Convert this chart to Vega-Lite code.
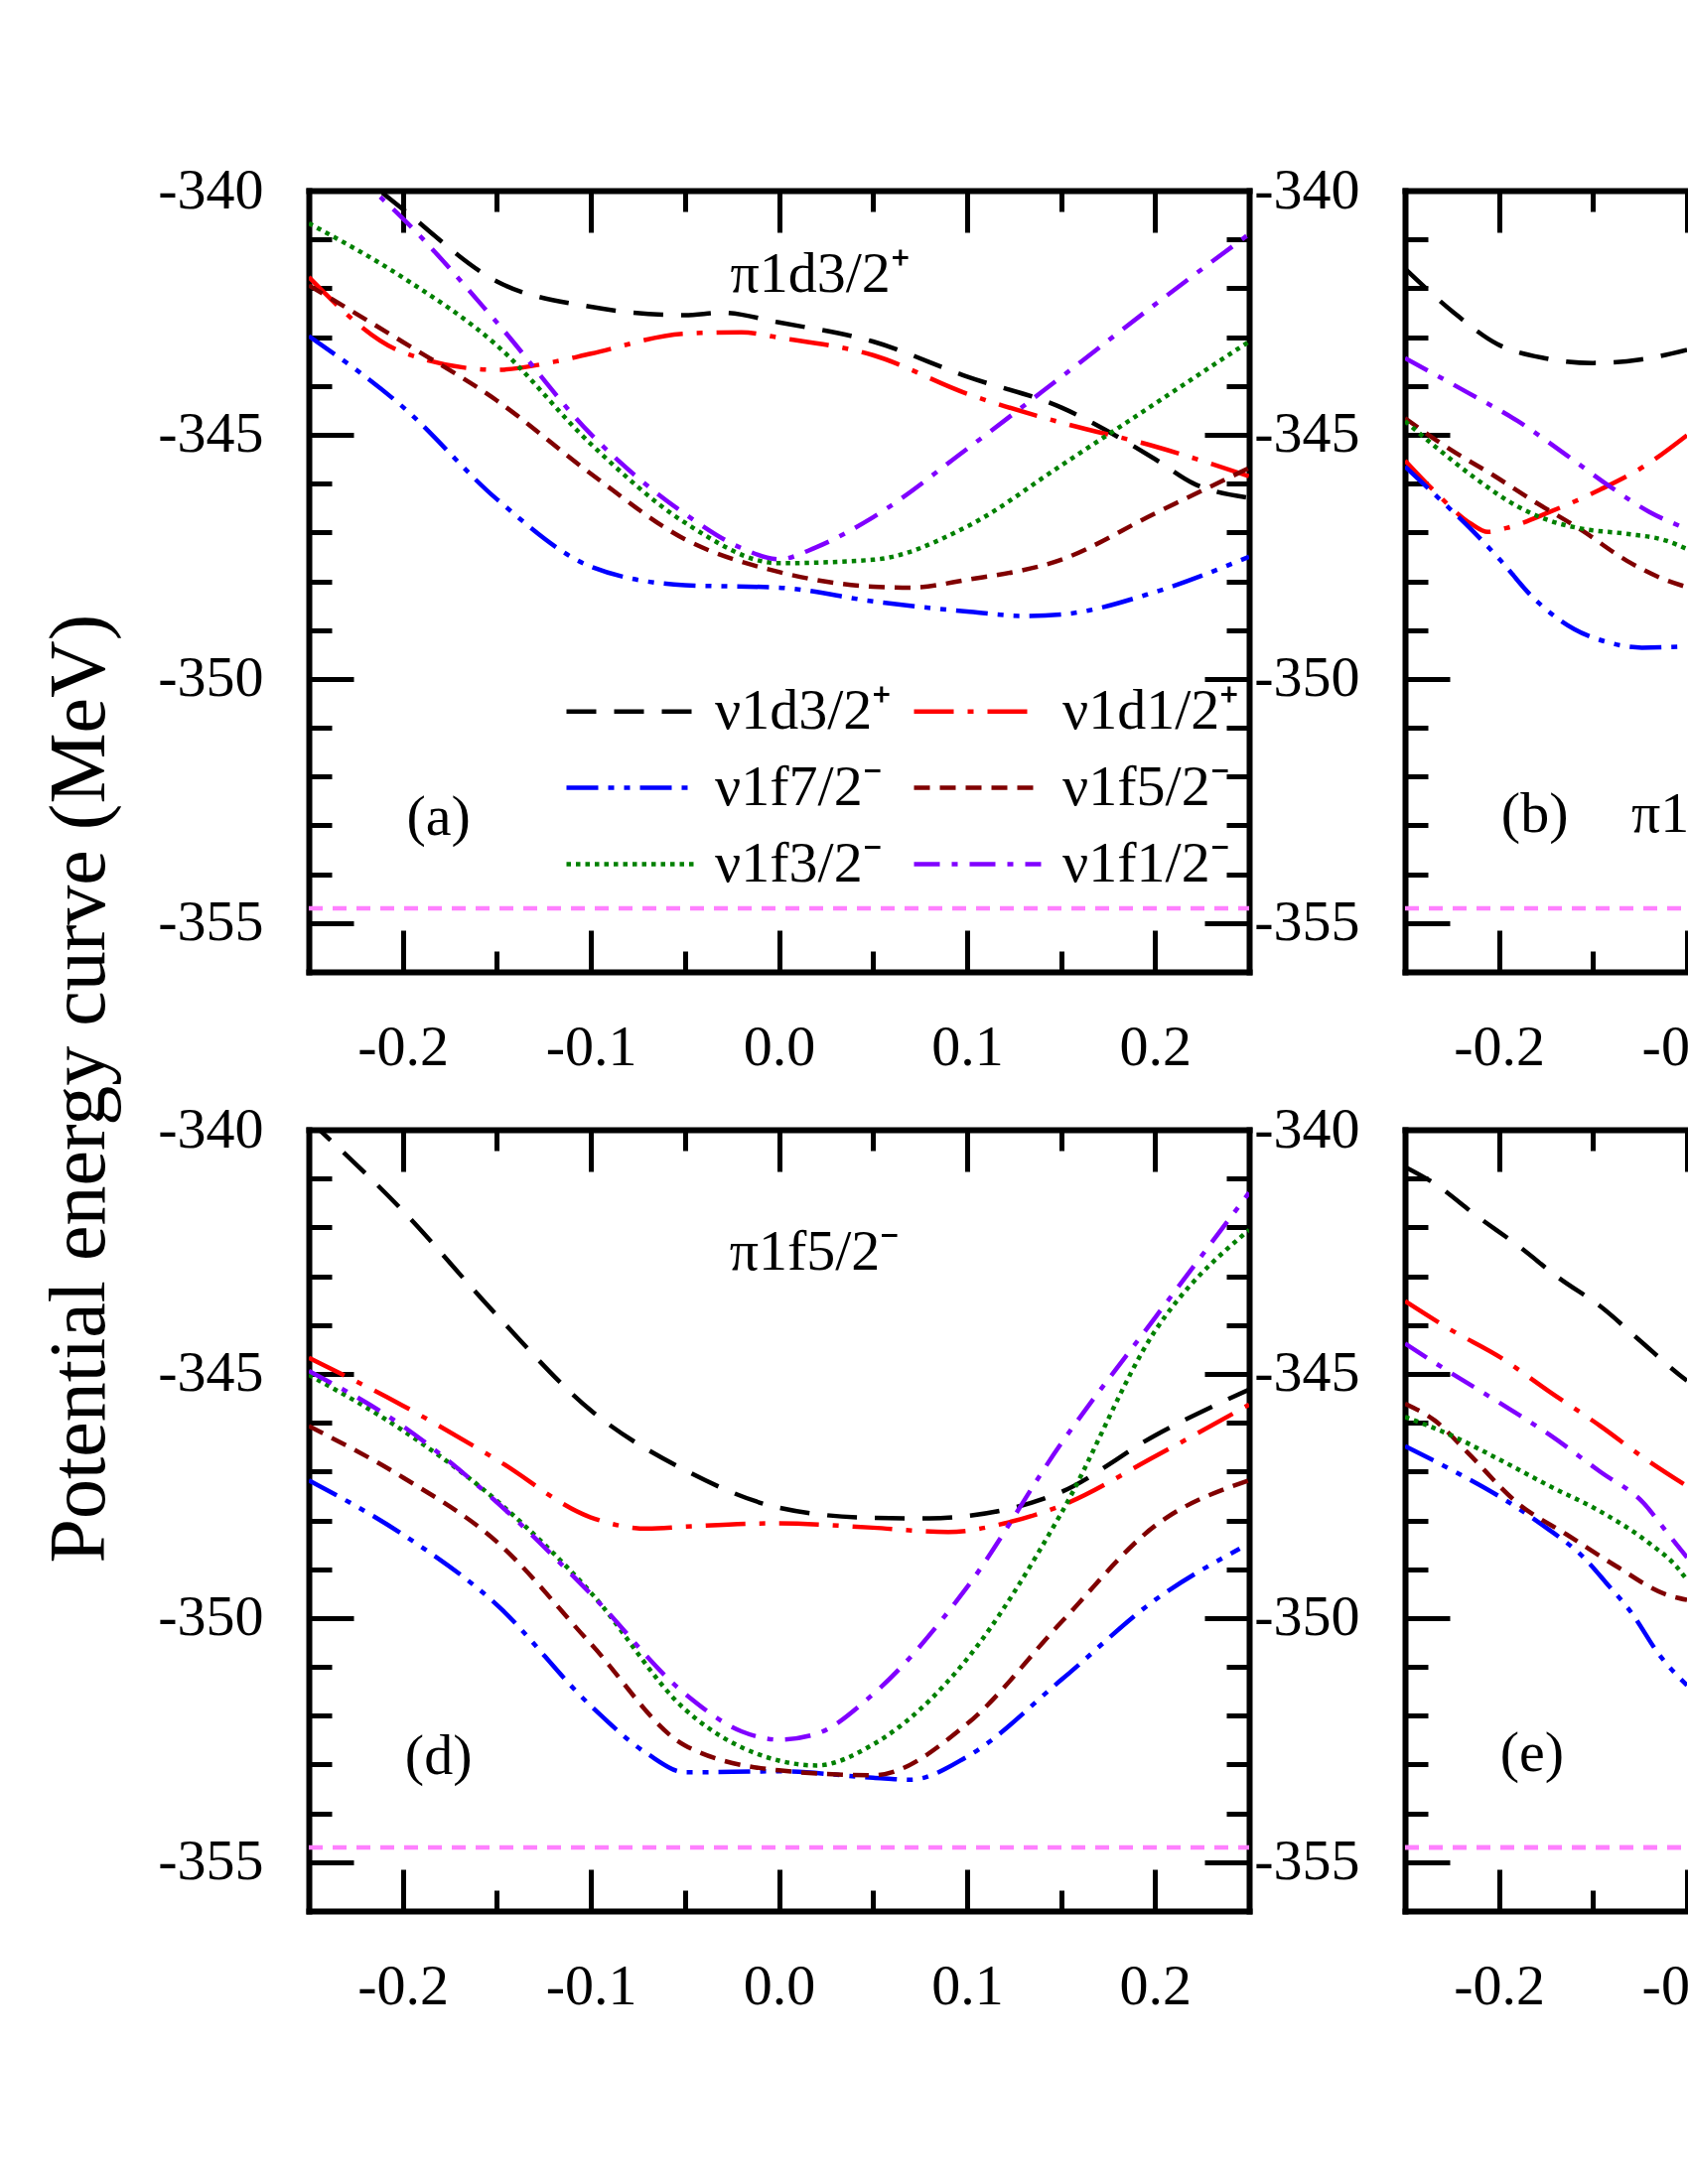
{
  "$schema": "https://vega.github.io/schema/vega-lite/v6.json",
  "background": "white",
  "padding": {"left": 40, "top": 163, "right": 0, "bottom": 0},
  "config": {
    "view": {"stroke": null},
    "font": "Liberation Serif",
    "axis": {"labelFont": "Liberation Serif", "labelFontSize": 58, "labelColor": "#000000", "tickColor": "#000000", "tickWidth": 5, "domainColor": "#000000", "domainWidth": 6, "domainCap": "square", "grid": false, "labelFlush": false, "labelOverlap": false}
  },
  "title": {"text": "Potential energy curve (MeV)", "orient": "left", "anchor": "middle", "font": "Liberation Serif", "fontSize": 80, "fontWeight": "normal", "color": "#000000", "offset": 37},
  "datasets": {
    "a": [
      {"s": "ν1d3/2⁺", "x": -0.25, "y": -338.8}, {"s": "ν1d3/2⁺", "x": -0.2, "y": -340.38}, {"s": "ν1d3/2⁺", "x": -0.15, "y": -341.86}, {"s": "ν1d3/2⁺", "x": -0.1, "y": -342.38}, {"s": "ν1d3/2⁺", "x": -0.05, "y": -342.55}, {"s": "ν1d3/2⁺", "x": -0.03, "y": -342.5}, {"s": "ν1d3/2⁺", "x": 0, "y": -342.7}, {"s": "ν1d3/2⁺", "x": 0.05, "y": -343.09}, {"s": "ν1d3/2⁺", "x": 0.1, "y": -343.81}, {"s": "ν1d3/2⁺", "x": 0.15, "y": -344.44}, {"s": "ν1d3/2⁺", "x": 0.2, "y": -345.5}, {"s": "ν1d3/2⁺", "x": 0.22, "y": -345.99}, {"s": "ν1d3/2⁺", "x": 0.25, "y": -346.29},
      {"s": "ν1d1/2⁺", "x": -0.25, "y": -341.77}, {"s": "ν1d1/2⁺", "x": -0.2, "y": -343.31}, {"s": "ν1d1/2⁺", "x": -0.15, "y": -343.67}, {"s": "ν1d1/2⁺", "x": -0.12, "y": -343.51}, {"s": "ν1d1/2⁺", "x": -0.1, "y": -343.34}, {"s": "ν1d1/2⁺", "x": -0.05, "y": -342.93}, {"s": "ν1d1/2⁺", "x": -0.02, "y": -342.9}, {"s": "ν1d1/2⁺", "x": 0, "y": -343.01}, {"s": "ν1d1/2⁺", "x": 0.05, "y": -343.37}, {"s": "ν1d1/2⁺", "x": 0.1, "y": -344.16}, {"s": "ν1d1/2⁺", "x": 0.15, "y": -344.75}, {"s": "ν1d1/2⁺", "x": 0.2, "y": -345.24}, {"s": "ν1d1/2⁺", "x": 0.25, "y": -345.85},
      {"s": "ν1f7/2⁻", "x": -0.25, "y": -342.98}, {"s": "ν1f7/2⁻", "x": -0.2, "y": -344.43}, {"s": "ν1f7/2⁻", "x": -0.15, "y": -346.32}, {"s": "ν1f7/2⁻", "x": -0.1, "y": -347.7}, {"s": "ν1f7/2⁻", "x": -0.05, "y": -348.08}, {"s": "ν1f7/2⁻", "x": 0, "y": -348.13}, {"s": "ν1f7/2⁻", "x": 0.05, "y": -348.41}, {"s": "ν1f7/2⁻", "x": 0.1, "y": -348.62}, {"s": "ν1f7/2⁻", "x": 0.13, "y": -348.71}, {"s": "ν1f7/2⁻", "x": 0.15, "y": -348.68}, {"s": "ν1f7/2⁻", "x": 0.2, "y": -348.22}, {"s": "ν1f7/2⁻", "x": 0.25, "y": -347.5},
      {"s": "ν1f5/2⁻", "x": -0.25, "y": -341.94}, {"s": "ν1f5/2⁻", "x": -0.2, "y": -343.1}, {"s": "ν1f5/2⁻", "x": -0.15, "y": -344.3}, {"s": "ν1f5/2⁻", "x": -0.1, "y": -345.8}, {"s": "ν1f5/2⁻", "x": -0.05, "y": -347.14}, {"s": "ν1f5/2⁻", "x": 0, "y": -347.81}, {"s": "ν1f5/2⁻", "x": 0.05, "y": -348.11}, {"s": "ν1f5/2⁻", "x": 0.07, "y": -348.13}, {"s": "ν1f5/2⁻", "x": 0.1, "y": -347.97}, {"s": "ν1f5/2⁻", "x": 0.15, "y": -347.56}, {"s": "ν1f5/2⁻", "x": 0.2, "y": -346.61}, {"s": "ν1f5/2⁻", "x": 0.25, "y": -345.68},
      {"s": "ν1f3/2⁻", "x": -0.25, "y": -340.67}, {"s": "ν1f3/2⁻", "x": -0.2, "y": -341.78}, {"s": "ν1f3/2⁻", "x": -0.15, "y": -343.17}, {"s": "ν1f3/2⁻", "x": -0.1, "y": -345.19}, {"s": "ν1f3/2⁻", "x": -0.05, "y": -346.8}, {"s": "ν1f3/2⁻", "x": 0, "y": -347.63}, {"s": "ν1f3/2⁻", "x": 0.05, "y": -347.56}, {"s": "ν1f3/2⁻", "x": 0.1, "y": -346.88}, {"s": "ν1f3/2⁻", "x": 0.15, "y": -345.63}, {"s": "ν1f3/2⁻", "x": 0.2, "y": -344.36}, {"s": "ν1f3/2⁻", "x": 0.25, "y": -343.09},
      {"s": "ν1f1/2⁻", "x": -0.25, "y": -338.9}, {"s": "ν1f1/2⁻", "x": -0.2, "y": -340.57}, {"s": "ν1f1/2⁻", "x": -0.15, "y": -342.7}, {"s": "ν1f1/2⁻", "x": -0.1, "y": -344.99}, {"s": "ν1f1/2⁻", "x": -0.05, "y": -346.62}, {"s": "ν1f1/2⁻", "x": -0.02, "y": -347.32}, {"s": "ν1f1/2⁻", "x": 0, "y": -347.55}, {"s": "ν1f1/2⁻", "x": 0.02, "y": -347.3}, {"s": "ν1f1/2⁻", "x": 0.05, "y": -346.69}, {"s": "ν1f1/2⁻", "x": 0.1, "y": -345.29}, {"s": "ν1f1/2⁻", "x": 0.15, "y": -343.82}, {"s": "ν1f1/2⁻", "x": 0.2, "y": -342.33}, {"s": "ν1f1/2⁻", "x": 0.25, "y": -340.89}
    ],
    "b": [
      {"s": "ν1d3/2⁺", "x": -0.25, "y": -341.6}, {"s": "ν1d3/2⁺", "x": -0.224, "y": -342.5}, {"s": "ν1d3/2⁺", "x": -0.201, "y": -343.14}, {"s": "ν1d3/2⁺", "x": -0.176, "y": -343.43}, {"s": "ν1d3/2⁺", "x": -0.15, "y": -343.53}, {"s": "ν1d3/2⁺", "x": -0.125, "y": -343.46}, {"s": "ν1d3/2⁺", "x": -0.1, "y": -343.26},
      {"s": "ν1d1/2⁺", "x": -0.25, "y": -345.53}, {"s": "ν1d1/2⁺", "x": -0.234, "y": -346.17}, {"s": "ν1d1/2⁺", "x": -0.215, "y": -346.82}, {"s": "ν1d1/2⁺", "x": -0.206, "y": -346.99}, {"s": "ν1d1/2⁺", "x": -0.196, "y": -346.91}, {"s": "ν1d1/2⁺", "x": -0.173, "y": -346.58}, {"s": "ν1d1/2⁺", "x": -0.146, "y": -346.12}, {"s": "ν1d1/2⁺", "x": -0.123, "y": -345.65}, {"s": "ν1d1/2⁺", "x": -0.1, "y": -345.01},
      {"s": "ν1f7/2⁻", "x": -0.25, "y": -345.65}, {"s": "ν1f7/2⁻", "x": -0.234, "y": -346.23}, {"s": "ν1f7/2⁻", "x": -0.215, "y": -346.93}, {"s": "ν1f7/2⁻", "x": -0.199, "y": -347.58}, {"s": "ν1f7/2⁻", "x": -0.182, "y": -348.33}, {"s": "ν1f7/2⁻", "x": -0.16, "y": -348.98}, {"s": "ν1f7/2⁻", "x": -0.143, "y": -349.24}, {"s": "ν1f7/2⁻", "x": -0.124, "y": -349.36}, {"s": "ν1f7/2⁻", "x": -0.1, "y": -349.33},
      {"s": "ν1f5/2⁻", "x": -0.25, "y": -344.66}, {"s": "ν1f5/2⁻", "x": -0.226, "y": -345.3}, {"s": "ν1f5/2⁻", "x": -0.203, "y": -345.83}, {"s": "ν1f5/2⁻", "x": -0.182, "y": -346.35}, {"s": "ν1f5/2⁻", "x": -0.157, "y": -346.93}, {"s": "ν1f5/2⁻", "x": -0.132, "y": -347.58}, {"s": "ν1f5/2⁻", "x": -0.111, "y": -347.98}, {"s": "ν1f5/2⁻", "x": -0.1, "y": -348.12},
      {"s": "ν1f3/2⁻", "x": -0.25, "y": -344.72}, {"s": "ν1f3/2⁻", "x": -0.234, "y": -345.24}, {"s": "ν1f3/2⁻", "x": -0.213, "y": -345.88}, {"s": "ν1f3/2⁻", "x": -0.19, "y": -346.47}, {"s": "ν1f3/2⁻", "x": -0.173, "y": -346.76}, {"s": "ν1f3/2⁻", "x": -0.155, "y": -346.93}, {"s": "ν1f3/2⁻", "x": -0.132, "y": -347.03}, {"s": "ν1f3/2⁻", "x": -0.111, "y": -347.17}, {"s": "ν1f3/2⁻", "x": -0.1, "y": -347.34},
      {"s": "ν1f1/2⁻", "x": -0.25, "y": -343.43}, {"s": "ν1f1/2⁻", "x": -0.217, "y": -344.13}, {"s": "ν1f1/2⁻", "x": -0.19, "y": -344.72}, {"s": "ν1f1/2⁻", "x": -0.164, "y": -345.42}, {"s": "ν1f1/2⁻", "x": -0.141, "y": -346.06}, {"s": "ν1f1/2⁻", "x": -0.12, "y": -346.58}, {"s": "ν1f1/2⁻", "x": -0.1, "y": -346.93}
    ],
    "d": [
      {"s": "ν1d3/2⁺", "x": -0.25, "y": -339.8}, {"s": "ν1d3/2⁺", "x": -0.2, "y": -341.66}, {"s": "ν1d3/2⁺", "x": -0.15, "y": -343.8}, {"s": "ν1d3/2⁺", "x": -0.1, "y": -345.75}, {"s": "ν1d3/2⁺", "x": -0.05, "y": -346.97}, {"s": "ν1d3/2⁺", "x": 0, "y": -347.74}, {"s": "ν1d3/2⁺", "x": 0.05, "y": -347.95}, {"s": "ν1d3/2⁺", "x": 0.08, "y": -347.96}, {"s": "ν1d3/2⁺", "x": 0.1, "y": -347.91}, {"s": "ν1d3/2⁺", "x": 0.15, "y": -347.42}, {"s": "ν1d3/2⁺", "x": 0.2, "y": -346.26}, {"s": "ν1d3/2⁺", "x": 0.25, "y": -345.32},
      {"s": "ν1d1/2⁺", "x": -0.25, "y": -344.67}, {"s": "ν1d1/2⁺", "x": -0.2, "y": -345.65}, {"s": "ν1d1/2⁺", "x": -0.15, "y": -346.76}, {"s": "ν1d1/2⁺", "x": -0.1, "y": -347.94}, {"s": "ν1d1/2⁺", "x": -0.07, "y": -348.17}, {"s": "ν1d1/2⁺", "x": -0.05, "y": -348.13}, {"s": "ν1d1/2⁺", "x": 0, "y": -348.06}, {"s": "ν1d1/2⁺", "x": 0.05, "y": -348.15}, {"s": "ν1d1/2⁺", "x": 0.09, "y": -348.24}, {"s": "ν1d1/2⁺", "x": 0.12, "y": -348.06}, {"s": "ν1d1/2⁺", "x": 0.15, "y": -347.7}, {"s": "ν1d1/2⁺", "x": 0.2, "y": -346.69}, {"s": "ν1d1/2⁺", "x": 0.25, "y": -345.63},
      {"s": "ν1f7/2⁻", "x": -0.25, "y": -347.18}, {"s": "ν1f7/2⁻", "x": -0.2, "y": -348.29}, {"s": "ν1f7/2⁻", "x": -0.15, "y": -349.73}, {"s": "ν1f7/2⁻", "x": -0.1, "y": -351.8}, {"s": "ν1f7/2⁻", "x": -0.07, "y": -352.78}, {"s": "ν1f7/2⁻", "x": -0.05, "y": -353.16}, {"s": "ν1f7/2⁻", "x": 0, "y": -353.14}, {"s": "ν1f7/2⁻", "x": 0.05, "y": -353.27}, {"s": "ν1f7/2⁻", "x": 0.07, "y": -353.31}, {"s": "ν1f7/2⁻", "x": 0.1, "y": -352.84}, {"s": "ν1f7/2⁻", "x": 0.15, "y": -351.27}, {"s": "ν1f7/2⁻", "x": 0.2, "y": -349.63}, {"s": "ν1f7/2⁻", "x": 0.245, "y": -348.58},
      {"s": "ν1f5/2⁻", "x": -0.25, "y": -346.07}, {"s": "ν1f5/2⁻", "x": -0.2, "y": -347.12}, {"s": "ν1f5/2⁻", "x": -0.15, "y": -348.44}, {"s": "ν1f5/2⁻", "x": -0.1, "y": -350.53}, {"s": "ν1f5/2⁻", "x": -0.05, "y": -352.61}, {"s": "ν1f5/2⁻", "x": 0, "y": -353.12}, {"s": "ν1f5/2⁻", "x": 0.05, "y": -353.22}, {"s": "ν1f5/2⁻", "x": 0.1, "y": -352.17}, {"s": "ν1f5/2⁻", "x": 0.15, "y": -350.09}, {"s": "ν1f5/2⁻", "x": 0.2, "y": -348.11}, {"s": "ν1f5/2⁻", "x": 0.25, "y": -347.18},
      {"s": "ν1f3/2⁻", "x": -0.25, "y": -345.02}, {"s": "ν1f3/2⁻", "x": -0.2, "y": -346.16}, {"s": "ν1f3/2⁻", "x": -0.15, "y": -347.6}, {"s": "ν1f3/2⁻", "x": -0.1, "y": -349.48}, {"s": "ν1f3/2⁻", "x": -0.05, "y": -351.87}, {"s": "ν1f3/2⁻", "x": 0, "y": -352.92}, {"s": "ν1f3/2⁻", "x": 0.02, "y": -353.02}, {"s": "ν1f3/2⁻", "x": 0.05, "y": -352.59}, {"s": "ν1f3/2⁻", "x": 0.1, "y": -350.84}, {"s": "ν1f3/2⁻", "x": 0.15, "y": -347.86}, {"s": "ν1f3/2⁻", "x": 0.2, "y": -344.12}, {"s": "ν1f3/2⁻", "x": 0.25, "y": -342.05},
      {"s": "ν1f1/2⁻", "x": -0.25, "y": -344.94}, {"s": "ν1f1/2⁻", "x": -0.2, "y": -346.07}, {"s": "ν1f1/2⁻", "x": -0.15, "y": -347.63}, {"s": "ν1f1/2⁻", "x": -0.1, "y": -349.51}, {"s": "ν1f1/2⁻", "x": -0.05, "y": -351.55}, {"s": "ν1f1/2⁻", "x": -0.02, "y": -352.32}, {"s": "ν1f1/2⁻", "x": 0, "y": -352.49}, {"s": "ν1f1/2⁻", "x": 0.02, "y": -352.37}, {"s": "ν1f1/2⁻", "x": 0.05, "y": -351.56}, {"s": "ν1f1/2⁻", "x": 0.1, "y": -349.37}, {"s": "ν1f1/2⁻", "x": 0.15, "y": -346.43}, {"s": "ν1f1/2⁻", "x": 0.2, "y": -343.85}, {"s": "ν1f1/2⁻", "x": 0.25, "y": -341.29}
    ],
    "e": [
      {"s": "ν1d3/2⁺", "x": -0.25, "y": -340.76}, {"s": "ν1d3/2⁺", "x": -0.234, "y": -341.11}, {"s": "ν1d3/2⁺", "x": -0.212, "y": -341.76}, {"s": "ν1d3/2⁺", "x": -0.189, "y": -342.4}, {"s": "ν1d3/2⁺", "x": -0.168, "y": -343.04}, {"s": "ν1d3/2⁺", "x": -0.146, "y": -343.62}, {"s": "ν1d3/2⁺", "x": -0.125, "y": -344.32}, {"s": "ν1d3/2⁺", "x": -0.104, "y": -345.02}, {"s": "ν1d3/2⁺", "x": -0.1, "y": -345.14},
      {"s": "ν1d1/2⁺", "x": -0.25, "y": -343.51}, {"s": "ν1d1/2⁺", "x": -0.226, "y": -344.09}, {"s": "ν1d1/2⁺", "x": -0.199, "y": -344.67}, {"s": "ν1d1/2⁺", "x": -0.173, "y": -345.37}, {"s": "ν1d1/2⁺", "x": -0.146, "y": -346.07}, {"s": "ν1d1/2⁺", "x": -0.123, "y": -346.72}, {"s": "ν1d1/2⁺", "x": -0.1, "y": -347.3},
      {"s": "ν1f7/2⁻", "x": -0.25, "y": -346.48}, {"s": "ν1f7/2⁻", "x": -0.226, "y": -346.95}, {"s": "ν1f7/2⁻", "x": -0.199, "y": -347.53}, {"s": "ν1f7/2⁻", "x": -0.176, "y": -348.12}, {"s": "ν1f7/2⁻", "x": -0.155, "y": -348.76}, {"s": "ν1f7/2⁻", "x": -0.143, "y": -349.28}, {"s": "ν1f7/2⁻", "x": -0.129, "y": -349.92}, {"s": "ν1f7/2⁻", "x": -0.115, "y": -350.74}, {"s": "ν1f7/2⁻", "x": -0.1, "y": -351.38},
      {"s": "ν1f5/2⁻", "x": -0.25, "y": -345.61}, {"s": "ν1f5/2⁻", "x": -0.234, "y": -345.96}, {"s": "ν1f5/2⁻", "x": -0.217, "y": -346.6}, {"s": "ν1f5/2⁻", "x": -0.19, "y": -347.65}, {"s": "ν1f5/2⁻", "x": -0.164, "y": -348.29}, {"s": "ν1f5/2⁻", "x": -0.138, "y": -348.93}, {"s": "ν1f5/2⁻", "x": -0.111, "y": -349.52}, {"s": "ν1f5/2⁻", "x": -0.1, "y": -349.63},
      {"s": "ν1f3/2⁻", "x": -0.25, "y": -345.88}, {"s": "ν1f3/2⁻", "x": -0.226, "y": -346.25}, {"s": "ν1f3/2⁻", "x": -0.199, "y": -346.77}, {"s": "ν1f3/2⁻", "x": -0.173, "y": -347.3}, {"s": "ν1f3/2⁻", "x": -0.146, "y": -347.82}, {"s": "ν1f3/2⁻", "x": -0.12, "y": -348.47}, {"s": "ν1f3/2⁻", "x": -0.106, "y": -348.93}, {"s": "ν1f3/2⁻", "x": -0.1, "y": -349.22},
      {"s": "ν1f1/2⁻", "x": -0.25, "y": -344.38}, {"s": "ν1f1/2⁻", "x": -0.226, "y": -344.97}, {"s": "ν1f1/2⁻", "x": -0.199, "y": -345.61}, {"s": "ν1f1/2⁻", "x": -0.173, "y": -346.25}, {"s": "ν1f1/2⁻", "x": -0.146, "y": -347.01}, {"s": "ν1f1/2⁻", "x": -0.123, "y": -347.65}, {"s": "ν1f1/2⁻", "x": -0.111, "y": -348.23}, {"s": "ν1f1/2⁻", "x": -0.1, "y": -348.76}
    ]
  },
  "columns": 2,
  "spacing": {"row": 159, "column": 157},
  "bounds": "flush",
  "align": "each",
  "resolve": {"scale": {"x": "independent", "y": "independent", "color": "independent", "strokeDash": "independent"}, "legend": {"color": "independent", "strokeDash": "independent"}},
  "concat": [
    {
      "width": 947, "height": 787,
      "resolve": {"axis": {"x": "independent", "y": "independent"}},
      "layer": [
        {
          "data": {"name": "a"},
          "mark": {"type": "line", "strokeWidth": 4.5, "interpolate": "monotone", "clip": true},
          "encoding": {
            "x": {"field": "x", "type": "quantitative", "scale": {"domain": [-0.25, 0.25], "nice": false, "zero": false}, "axis": {"orient": "bottom", "values": [-0.2, -0.1, 0, 0.1, 0.2], "format": ".1f", "labelExpr": "replace(datum.label, '\u2212', '-')", "tickSize": -42, "labelPadding": 89, "domain": true, "title": null}},
            "y": {"field": "y", "type": "quantitative", "scale": {"domain": [-356, -340], "nice": false, "zero": false}, "axis": {"orient": "left", "values": [-340, -345, -350, -355], "labelExpr": "replace(datum.label, '\u2212', '-')", "tickSize": -45, "labelPadding": 91, "domain": true, "title": null}},
            "color": {"field": "s", "type": "nominal", "scale": {"domain": ["ν1d3/2⁺", "ν1d1/2⁺", "ν1f7/2⁻", "ν1f5/2⁻", "ν1f3/2⁻", "ν1f1/2⁻"], "range": ["#000000", "#ff0000", "#0000ff", "#800000", "#008000", "#8000ff"]}, "legend": {"orient": "none", "legendX": 289, "legendY": 490, "direction": "horizontal", "columns": 2, "symbolType": "M-2,0H2", "symbolSize": 4096, "symbolStrokeWidth": 4.5, "labelFont": "Liberation Serif", "labelFontSize": 58, "labelColor": "#000000", "labelOffset": 51, "labelLimit": 500, "columnPadding": 12, "rowPadding": 13, "title": null, "padding": 0}},
            "strokeDash": {"field": "s", "type": "nominal", "scale": {"domain": ["ν1d3/2⁺", "ν1d1/2⁺", "ν1f7/2⁻", "ν1f5/2⁻", "ν1f3/2⁻", "ν1f1/2⁻"], "range": [[30, 18], [40, 14, 6, 14], [32, 10, 6, 10, 6, 10], [16, 10], [4.5, 5], [26, 12, 6, 12]]}, "legend": {"orient": "none", "legendX": 289, "legendY": 490, "direction": "horizontal", "columns": 2, "symbolType": "M-2,0H2", "symbolSize": 4096, "symbolStrokeWidth": 4.5, "labelFont": "Liberation Serif", "labelFontSize": 58, "labelColor": "#000000", "labelOffset": 51, "labelLimit": 500, "columnPadding": 12, "rowPadding": 13, "title": null, "padding": 0}}
          }
        },
        {
          "data": {"values": [{"x": -0.25, "y": -354.7}, {"x": 0.25, "y": -354.7}]},
          "mark": {"type": "line", "color": "#ff80ff", "strokeWidth": 4.5, "strokeDash": [14, 10]},
          "encoding": {
            "x": {"field": "x", "type": "quantitative", "scale": {"domain": [-0.25, 0.25], "nice": false, "zero": false}, "axis": {"orient": "bottom", "values": [-0.15, -0.05, 0.05, 0.15], "labels": false, "domain": false, "tickSize": -21, "title": null}},
            "y": {"field": "y", "type": "quantitative", "scale": {"domain": [-356, -340], "nice": false, "zero": false}, "axis": {"orient": "left", "values": [-341, -342, -343, -344, -346, -347, -348, -349, -351, -352, -353, -354], "labels": false, "domain": false, "tickSize": -23, "title": null}}
          }
        },
        {
          "data": {"values": [{"x": -0.181, "y": -352.85, "t": "(a)"}]},
          "mark": {"type": "text", "font": "Liberation Serif", "fontSize": 58, "color": "#000000"},
          "encoding": {
            "x": {"field": "x", "type": "quantitative", "scale": {"domain": [-0.25, 0.25], "nice": false, "zero": false}, "axis": {"orient": "top", "values": [-0.2, -0.1, 0, 0.1, 0.2], "labels": false, "domain": true, "tickSize": -42, "title": null}},
            "y": {"field": "y", "type": "quantitative", "scale": {"domain": [-356, -340], "nice": false, "zero": false}, "axis": {"orient": "right", "values": [-340, -345, -350, -355], "labels": false, "domain": true, "tickSize": -45, "title": null}},
            "text": {"field": "t"}
          }
        },
        {
          "data": {"values": [{"x": 0.022, "y": -341.72, "t": "π1d3/2⁺"}]},
          "mark": {"type": "text", "font": "Liberation Serif", "fontSize": 58, "color": "#000000"},
          "encoding": {
            "x": {"field": "x", "type": "quantitative", "scale": {"domain": [-0.25, 0.25], "nice": false, "zero": false}, "axis": {"orient": "top", "values": [-0.15, -0.05, 0.05, 0.15], "labels": false, "domain": false, "tickSize": -21, "title": null}},
            "y": {"field": "y", "type": "quantitative", "scale": {"domain": [-356, -340], "nice": false, "zero": false}, "axis": {"orient": "right", "values": [-341, -342, -343, -344, -346, -347, -348, -349, -351, -352, -353, -354], "labels": false, "domain": false, "tickSize": -23, "title": null}},
            "text": {"field": "t"}
          }
        }
      ]
    },
    {
      "width": 284, "height": 787,
      "resolve": {"axis": {"x": "independent", "y": "independent"}},
      "layer": [
        {
          "data": {"name": "b"},
          "mark": {"type": "line", "strokeWidth": 4.5, "interpolate": "monotone", "clip": true},
          "encoding": {
            "x": {"field": "x", "type": "quantitative", "scale": {"domain": [-0.25, -0.1], "nice": false, "zero": false}, "axis": {"orient": "bottom", "values": [-0.2, -0.1], "format": ".1f", "labelExpr": "replace(datum.label, '\u2212', '-')", "tickSize": -42, "labelPadding": 89, "domain": true, "title": null}},
            "y": {"field": "y", "type": "quantitative", "scale": {"domain": [-356, -340], "nice": false, "zero": false}, "axis": {"orient": "left", "values": [-340, -345, -350, -355], "labelExpr": "replace(datum.label, '\u2212', '-')", "tickSize": -45, "labelPadding": 91, "domain": true, "title": null}},
            "color": {"field": "s", "type": "nominal", "scale": {"domain": ["ν1d3/2⁺", "ν1d1/2⁺", "ν1f7/2⁻", "ν1f5/2⁻", "ν1f3/2⁻", "ν1f1/2⁻"], "range": ["#000000", "#ff0000", "#0000ff", "#800000", "#008000", "#8000ff"]}, "legend": null},
            "strokeDash": {"field": "s", "type": "nominal", "scale": {"domain": ["ν1d3/2⁺", "ν1d1/2⁺", "ν1f7/2⁻", "ν1f5/2⁻", "ν1f3/2⁻", "ν1f1/2⁻"], "range": [[30, 18], [40, 14, 6, 14], [32, 10, 6, 10, 6, 10], [16, 10], [4.5, 5], [26, 12, 6, 12]]}, "legend": null}
          }
        },
        {
          "data": {"values": [{"x": -0.25, "y": -354.7}, {"x": -0.1, "y": -354.7}]},
          "mark": {"type": "line", "color": "#ff80ff", "strokeWidth": 4.5, "strokeDash": [14, 10]},
          "encoding": {
            "x": {"field": "x", "type": "quantitative", "scale": {"domain": [-0.25, -0.1], "nice": false, "zero": false}, "axis": {"orient": "bottom", "values": [-0.15], "labels": false, "domain": false, "tickSize": -21, "title": null}},
            "y": {"field": "y", "type": "quantitative", "scale": {"domain": [-356, -340], "nice": false, "zero": false}, "axis": {"orient": "left", "values": [-341, -342, -343, -344, -346, -347, -348, -349, -351, -352, -353, -354], "labels": false, "domain": false, "tickSize": -23, "title": null}}
          }
        },
        {
          "data": {"values": [{"x": -0.181, "y": -352.78, "t": "(b)"}]},
          "mark": {"type": "text", "font": "Liberation Serif", "fontSize": 58, "color": "#000000"},
          "encoding": {
            "x": {"field": "x", "type": "quantitative", "scale": {"domain": [-0.25, -0.1], "nice": false, "zero": false}, "axis": {"orient": "top", "values": [-0.2, -0.1], "labels": false, "domain": true, "tickSize": -42, "title": null}},
            "y": {"field": "y", "type": "quantitative", "scale": {"domain": [-356, -340], "nice": false, "zero": false}, "axis": null},
            "text": {"field": "t"}
          }
        },
        {
          "data": {"values": [{"x": -0.1296, "y": -352.78, "t": "π1d1/2⁺"}]},
          "mark": {"type": "text", "font": "Liberation Serif", "fontSize": 58, "color": "#000000", "align": "left", "clip": true},
          "encoding": {
            "x": {"field": "x", "type": "quantitative", "scale": {"domain": [-0.25, -0.1], "nice": false, "zero": false}, "axis": {"orient": "top", "values": [-0.15], "labels": false, "domain": false, "tickSize": -21, "title": null}},
            "y": {"field": "y", "type": "quantitative", "scale": {"domain": [-356, -340], "nice": false, "zero": false}, "axis": null},
            "text": {"field": "t"}
          }
        }
      ]
    },
    {
      "width": 947, "height": 787,
      "resolve": {"axis": {"x": "independent", "y": "independent"}},
      "layer": [
        {
          "data": {"name": "d"},
          "mark": {"type": "line", "strokeWidth": 4.5, "interpolate": "monotone", "clip": true},
          "encoding": {
            "x": {"field": "x", "type": "quantitative", "scale": {"domain": [-0.25, 0.25], "nice": false, "zero": false}, "axis": {"orient": "bottom", "values": [-0.2, -0.1, 0, 0.1, 0.2], "format": ".1f", "labelExpr": "replace(datum.label, '\u2212', '-')", "tickSize": -42, "labelPadding": 89, "domain": true, "title": null}},
            "y": {"field": "y", "type": "quantitative", "scale": {"domain": [-356, -340], "nice": false, "zero": false}, "axis": {"orient": "left", "values": [-340, -345, -350, -355], "labelExpr": "replace(datum.label, '\u2212', '-')", "tickSize": -45, "labelPadding": 91, "domain": true, "title": null}},
            "color": {"field": "s", "type": "nominal", "scale": {"domain": ["ν1d3/2⁺", "ν1d1/2⁺", "ν1f7/2⁻", "ν1f5/2⁻", "ν1f3/2⁻", "ν1f1/2⁻"], "range": ["#000000", "#ff0000", "#0000ff", "#800000", "#008000", "#8000ff"]}, "legend": null},
            "strokeDash": {"field": "s", "type": "nominal", "scale": {"domain": ["ν1d3/2⁺", "ν1d1/2⁺", "ν1f7/2⁻", "ν1f5/2⁻", "ν1f3/2⁻", "ν1f1/2⁻"], "range": [[30, 18], [40, 14, 6, 14], [32, 10, 6, 10, 6, 10], [16, 10], [4.5, 5], [26, 12, 6, 12]]}, "legend": null}
          }
        },
        {
          "data": {"values": [{"x": -0.25, "y": -354.7}, {"x": 0.25, "y": -354.7}]},
          "mark": {"type": "line", "color": "#ff80ff", "strokeWidth": 4.5, "strokeDash": [14, 10]},
          "encoding": {
            "x": {"field": "x", "type": "quantitative", "scale": {"domain": [-0.25, 0.25], "nice": false, "zero": false}, "axis": {"orient": "bottom", "values": [-0.15, -0.05, 0.05, 0.15], "labels": false, "domain": false, "tickSize": -21, "title": null}},
            "y": {"field": "y", "type": "quantitative", "scale": {"domain": [-356, -340], "nice": false, "zero": false}, "axis": {"orient": "left", "values": [-341, -342, -343, -344, -346, -347, -348, -349, -351, -352, -353, -354], "labels": false, "domain": false, "tickSize": -23, "title": null}}
          }
        },
        {
          "data": {"values": [{"x": -0.181, "y": -352.84, "t": "(d)"}]},
          "mark": {"type": "text", "font": "Liberation Serif", "fontSize": 58, "color": "#000000"},
          "encoding": {
            "x": {"field": "x", "type": "quantitative", "scale": {"domain": [-0.25, 0.25], "nice": false, "zero": false}, "axis": {"orient": "top", "values": [-0.2, -0.1, 0, 0.1, 0.2], "labels": false, "domain": true, "tickSize": -42, "title": null}},
            "y": {"field": "y", "type": "quantitative", "scale": {"domain": [-356, -340], "nice": false, "zero": false}, "axis": {"orient": "right", "values": [-340, -345, -350, -355], "labels": false, "domain": true, "tickSize": -45, "title": null}},
            "text": {"field": "t"}
          }
        },
        {
          "data": {"values": [{"x": 0.019, "y": -342.52, "t": "π1f5/2⁻"}]},
          "mark": {"type": "text", "font": "Liberation Serif", "fontSize": 58, "color": "#000000"},
          "encoding": {
            "x": {"field": "x", "type": "quantitative", "scale": {"domain": [-0.25, 0.25], "nice": false, "zero": false}, "axis": {"orient": "top", "values": [-0.15, -0.05, 0.05, 0.15], "labels": false, "domain": false, "tickSize": -21, "title": null}},
            "y": {"field": "y", "type": "quantitative", "scale": {"domain": [-356, -340], "nice": false, "zero": false}, "axis": {"orient": "right", "values": [-341, -342, -343, -344, -346, -347, -348, -349, -351, -352, -353, -354], "labels": false, "domain": false, "tickSize": -23, "title": null}},
            "text": {"field": "t"}
          }
        }
      ]
    },
    {
      "width": 284, "height": 787,
      "resolve": {"axis": {"x": "independent", "y": "independent"}},
      "layer": [
        {
          "data": {"name": "e"},
          "mark": {"type": "line", "strokeWidth": 4.5, "interpolate": "monotone", "clip": true},
          "encoding": {
            "x": {"field": "x", "type": "quantitative", "scale": {"domain": [-0.25, -0.1], "nice": false, "zero": false}, "axis": {"orient": "bottom", "values": [-0.2, -0.1], "format": ".1f", "labelExpr": "replace(datum.label, '\u2212', '-')", "tickSize": -42, "labelPadding": 89, "domain": true, "title": null}},
            "y": {"field": "y", "type": "quantitative", "scale": {"domain": [-356, -340], "nice": false, "zero": false}, "axis": {"orient": "left", "values": [-340, -345, -350, -355], "labelExpr": "replace(datum.label, '\u2212', '-')", "tickSize": -45, "labelPadding": 91, "domain": true, "title": null}},
            "color": {"field": "s", "type": "nominal", "scale": {"domain": ["ν1d3/2⁺", "ν1d1/2⁺", "ν1f7/2⁻", "ν1f5/2⁻", "ν1f3/2⁻", "ν1f1/2⁻"], "range": ["#000000", "#ff0000", "#0000ff", "#800000", "#008000", "#8000ff"]}, "legend": null},
            "strokeDash": {"field": "s", "type": "nominal", "scale": {"domain": ["ν1d3/2⁺", "ν1d1/2⁺", "ν1f7/2⁻", "ν1f5/2⁻", "ν1f3/2⁻", "ν1f1/2⁻"], "range": [[30, 18], [40, 14, 6, 14], [32, 10, 6, 10, 6, 10], [16, 10], [4.5, 5], [26, 12, 6, 12]]}, "legend": null}
          }
        },
        {
          "data": {"values": [{"x": -0.25, "y": -354.7}, {"x": -0.1, "y": -354.7}]},
          "mark": {"type": "line", "color": "#ff80ff", "strokeWidth": 4.5, "strokeDash": [14, 10]},
          "encoding": {
            "x": {"field": "x", "type": "quantitative", "scale": {"domain": [-0.25, -0.1], "nice": false, "zero": false}, "axis": {"orient": "bottom", "values": [-0.15], "labels": false, "domain": false, "tickSize": -21, "title": null}},
            "y": {"field": "y", "type": "quantitative", "scale": {"domain": [-356, -340], "nice": false, "zero": false}, "axis": {"orient": "left", "values": [-341, -342, -343, -344, -346, -347, -348, -349, -351, -352, -353, -354], "labels": false, "domain": false, "tickSize": -23, "title": null}}
          }
        },
        {
          "data": {"values": [{"x": -0.1824, "y": -352.79, "t": "(e)"}]},
          "mark": {"type": "text", "font": "Liberation Serif", "fontSize": 58, "color": "#000000"},
          "encoding": {
            "x": {"field": "x", "type": "quantitative", "scale": {"domain": [-0.25, -0.1], "nice": false, "zero": false}, "axis": {"orient": "top", "values": [-0.2, -0.1], "labels": false, "domain": true, "tickSize": -42, "title": null}},
            "y": {"field": "y", "type": "quantitative", "scale": {"domain": [-356, -340], "nice": false, "zero": false}, "axis": null},
            "text": {"field": "t"}
          }
        },
        {
          "data": {"values": [{"x": -0.25, "y": -354.7}, {"x": -0.1, "y": -354.7}]},
          "mark": {"type": "line", "color": "#ff80ff", "strokeWidth": 4.5, "strokeDash": [14, 10]},
          "encoding": {
            "x": {"field": "x", "type": "quantitative", "scale": {"domain": [-0.25, -0.1], "nice": false, "zero": false}, "axis": {"orient": "top", "values": [-0.15], "labels": false, "domain": false, "tickSize": -21, "title": null}},
            "y": {"field": "y", "type": "quantitative", "scale": {"domain": [-356, -340], "nice": false, "zero": false}, "axis": null}
          }
        }
      ]
    }
  ]
}
